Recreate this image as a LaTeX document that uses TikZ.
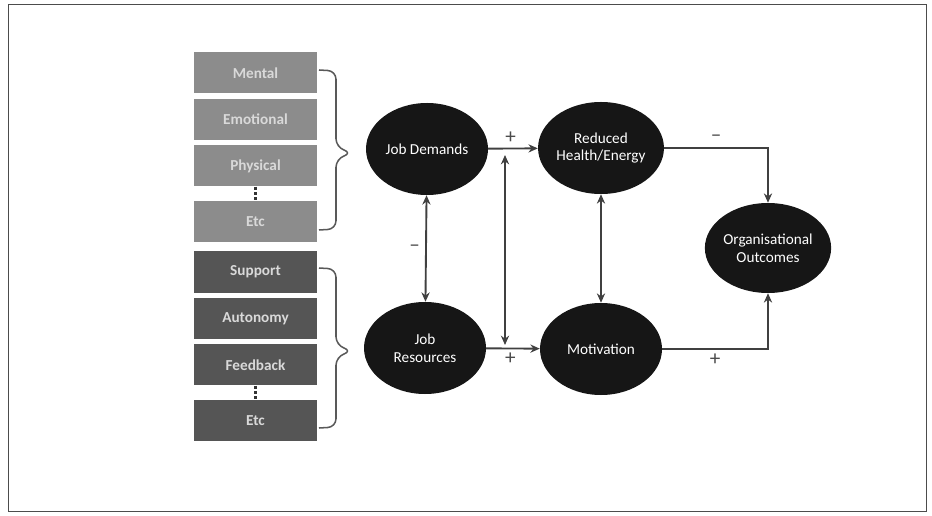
\documentclass[tikz,border=0pt]{standalone}
\usepackage{fontspec}
\setmainfont{Carlito}
\usepackage{tikz}
\usetikzlibrary{positioning, arrows.meta, shapes.geometric}

\definecolor{demandgray}{HTML}{8C8C8C}
\definecolor{resourcegray}{HTML}{555555}
\definecolor{ovalfill}{HTML}{161616}

\begin{document}
\begin{tikzpicture}[
    x=0.03cm, y=-0.03cm,
    >=Stealth,
    factor/.style={draw=none, minimum width=3.69cm, minimum height=1.23cm, align=center, font=\fontsize{13}{14}\selectfont\bfseries, text=white!85!black},
    demand/.style={factor, fill=demandgray},
    resource/.style={factor, fill=resourcegray},
    oval/.style={ellipse, fill=ovalfill, minimum width=3.66cm, minimum height=2.76cm, inner sep=0pt, align=center, text=white, font=\fontsize{13}{15}\selectfont},
    arrow/.style={->, line width=1.6pt, color=black!75, arrows={-Stealth[length=8pt, width=7pt]}},
    darrow/.style={arrow, arrows={Stealth[length=8pt, width=7pt]-Stealth[length=8pt, width=7pt]}},
    brace/.style={rounded corners=7pt, line width=1.3pt, color=black!65},
    sign/.style={font=\fontsize{18}{18}\selectfont, text=black!70},
]
\useasboundingbox (0,0) rectangle (932,516);
\draw[black!70, line width=0.8pt] (8,4) rectangle (926,511);

% Demand factors
\node[demand] (mental) at (255.5,73) {Mental};
\node[demand, below=0.15cm of mental] (emotional) {Emotional};
\node[demand, below=0.15cm of emotional] (physical) {Physical};
\node[demand, below=0.42cm of physical] (etcd) {Etc};
\draw[line width=2.5pt, dotted, black!80] (physical.south) -- (etcd.north);

% Resource factors
\node[resource] (support) at (255.5,272) {Support};
\node[resource, below=0.15cm of support] (autonomy) {Autonomy};
\node[resource, below=0.15cm of autonomy] (feedback) {Feedback};
\node[resource, below=0.42cm of feedback] (etcr) {Etc};
\draw[line width=2.5pt, dotted, black!80] (feedback.south) -- (etcr.north);

% Braces
\draw[brace] (319,70) -- (336,71) -- (336,147) -- (352,153) -- (336,159) -- (336,229) -- (319,230);
\draw[brace] (319,268) -- (336,269) -- (336,345) -- (352,351) -- (336,357) -- (336,427) -- (319,428);

% Ovals
\node[oval] (demands) at (427,149) {Job Demands};
\node[oval] (resources) at (425,348) {Job\\Resources};
\node[oval] (health) at (601,148) {Reduced\\Health/Energy};
\node[oval] (motivation) at (601,349) {Motivation};
\node[oval, minimum width=3.69cm, minimum height=2.7cm] (outcomes) at (768,248) {Organisational\\Outcomes};

% Paths
\draw[arrow] (demands) -- node[sign, above=0pt, pos=0.45] {+} (health);
\draw[arrow] (resources) -- node[sign, below=0pt, pos=0.45] {+} (motivation);
\draw[darrow] (demands) -- node[sign, left=1pt, pos=0.5] {--} (resources);
\draw[darrow] (health) -- (motivation);
\coordinate (upper) at (505,155);
\coordinate (lower) at (505,345);
\draw[darrow] (upper) -- (lower);
\draw[arrow] (health.east) -| node[sign, above=1pt, pos=0.25] {--} (outcomes.north);
\draw[arrow] (motivation.east) -| node[sign, below=0pt, pos=0.25] {+} (outcomes.south);

\end{tikzpicture}
\end{document}
